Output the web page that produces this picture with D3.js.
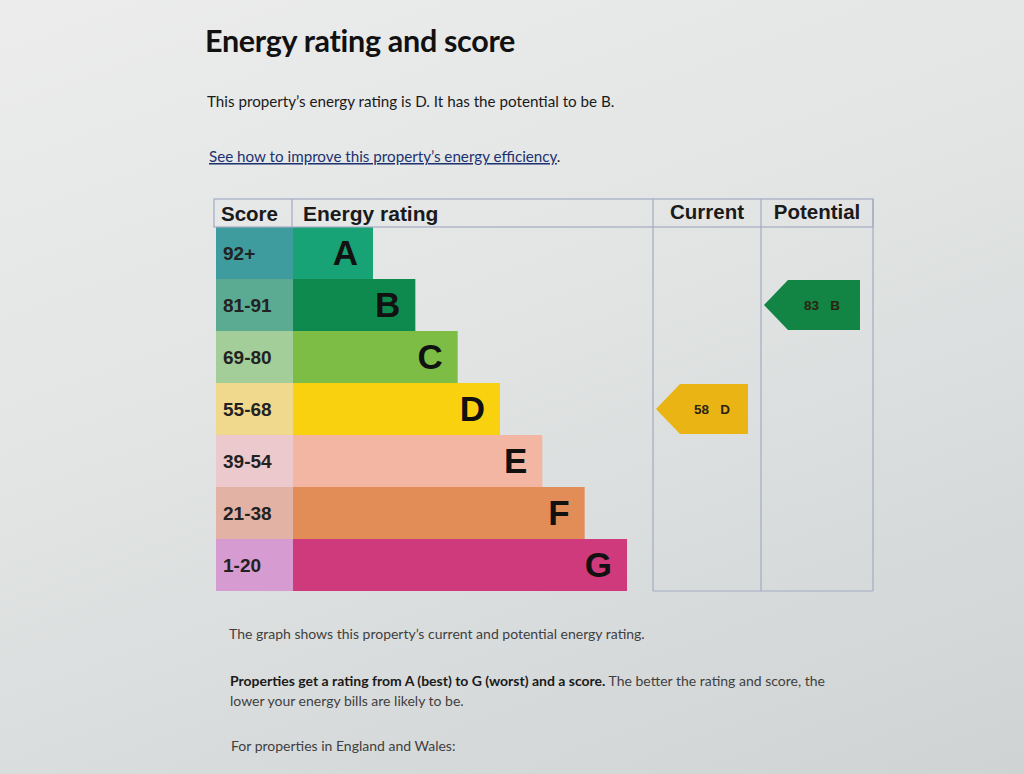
<!DOCTYPE html>
<html><head><meta charset="utf-8">
<script src="https://cdn.jsdelivr.net/npm/d3@7"></script>
<style>
html,body{margin:0;padding:0;}
body{width:1024px;height:774px;overflow:hidden;background:linear-gradient(160deg,#ececec 0%,#e2e4e4 45%,#cfd3d3 100%);}
</style></head>
<body><svg id="c" width="1024" height="774"></svg>
<script>
const ratings = ["A","B","C","D","E","F","G"];
const scoreLabels = ["92+","81-91","69-80","55-68","39-54","21-38","1-20"];
const bandMin = [92,81,69,55,39,21,1];
const currentScore = 58;
const potentialScore = 83;
const headers = ["Score","Energy rating","Current","Potential"];
const barColors = ["#17a376","#0f8a4e","#7dbd45","#f9d10e","#f2b6a3","#e28c58","#cf3a7c"];
const scoreColors = ["#3e9c9f","#5bab93","#a3cd99","#f0d98d","#ebc9cd","#e2b3a5","#d69bd0"];

const svg = d3.select("#c");
const pf = "Lato, 'Noto Sans', sans-serif";

// page text
svg.append("text").attr("x",205).attr("y",52).attr("font-family",pf)
  .attr("font-weight",700).attr("font-size",30.5).attr("fill","#111").attr("letter-spacing","-0.3")
  .text("Energy rating and score");
svg.append("text").attr("x",207).attr("y",107).attr("font-family",pf)
  .attr("font-size",15.2).attr("fill","#1a1a1a")
  .text("This property\u2019s energy rating is D. It has the potential to be B.");
const lt = svg.append("text").attr("x",209).attr("y",162).attr("font-family",pf).attr("font-size",15.2);
lt.append("tspan").attr("fill","#1d3270").attr("text-decoration","underline")
  .text("See how to improve this property\u2019s energy efficiency");
lt.append("tspan").attr("fill","#1a1a1a").text(".");

// table geometry
const tLeft = 214, tRight = 873, tTop = 199, headH = 28;
const colX = d3.scaleOrdinal().domain(headers).range([tLeft, 292, 653, 761]);
const colEnd = {"Score":292,"Energy rating":653,"Current":761,"Potential":tRight};
const y = d3.scaleBand().domain(ratings).range([tTop+headH, 591]).paddingInner(0);
const barEnd = d3.scaleLinear().domain([1,7]).range([373,627]);
const tBottom = y.range()[1];
const hf = "'Liberation Sans', Arial, sans-serif";

const g = svg.append("g");
g.selectAll("rect.score").data(ratings).join("rect")
  .attr("x",tLeft+2).attr("y",d=>y(d)).attr("width",colX("Energy rating")-tLeft-1).attr("height",y.bandwidth())
  .attr("fill",(d,i)=>scoreColors[i]);
g.selectAll("rect.bar").data(ratings).join("rect")
  .attr("x",colX("Energy rating")+1).attr("y",d=>y(d)).attr("width",(d,i)=>barEnd(i+1)-colX("Energy rating")-1)
  .attr("height",y.bandwidth()).attr("fill",(d,i)=>barColors[i]);
g.selectAll("text.sl").data(scoreLabels).join("text")
  .attr("x",tLeft+9).attr("y",(d,i)=>y(ratings[i])+y.bandwidth()/2+7)
  .attr("font-family",hf).attr("font-weight",700).attr("font-size",19)
  .attr("fill","#222").text(d=>d);
g.selectAll("text.rl").data(ratings).join("text")
  .attr("x",(d,i)=>barEnd(i+1)-15).attr("y",d=>y(d)+y.bandwidth()/2+12).attr("text-anchor","end")
  .attr("font-family",hf).attr("font-weight",700).attr("font-size",35)
  .attr("fill","#111").text(d=>d);

// grid lines
const lc = "#a3aac4";
g.append("rect").attr("x",tLeft).attr("y",tTop).attr("width",tRight-tLeft).attr("height",headH)
  .attr("fill","none").attr("stroke",lc).attr("stroke-width",1.2);
g.append("line").attr("x1",colX("Energy rating")).attr("x2",colX("Energy rating")).attr("y1",tTop).attr("y2",tTop+headH).attr("stroke",lc).attr("stroke-width",1.2);
[colX("Current"),colX("Potential"),tRight].forEach(x=>g.append("line").attr("x1",x).attr("x2",x).attr("y1",tTop).attr("y2",tBottom).attr("stroke",lc).attr("stroke-width",1.2));
g.append("line").attr("x1",colX("Current")).attr("x2",tRight).attr("y1",tBottom).attr("y2",tBottom).attr("stroke",lc).attr("stroke-width",1);

// headers
g.append("text").attr("x",tLeft+7).attr("y",tTop+22).attr("font-family",hf).attr("font-weight",700).attr("font-size",20.5).attr("fill","#1a1a1a").text(headers[0]);
g.append("text").attr("x",colX("Energy rating")+11).attr("y",tTop+22).attr("font-family",hf).attr("font-weight",700).attr("font-size",21).attr("fill","#1a1a1a").text(headers[1]);
headers.slice(2).forEach(h=>g.append("text").attr("x",(colX(h)+colEnd[h])/2).attr("y",tTop+20).attr("text-anchor","middle")
  .attr("font-family",hf).attr("font-weight",700).attr("font-size",20.5).attr("fill","#1a1a1a").text(h));

// indicators
function bandOf(s){ return ratings[bandMin.findIndex(m=>s>=m)]; }
const indicators = [{col:"Current",score:currentScore,color:"#eab514"},{col:"Potential",score:potentialScore,color:"#128444"}];
indicators.forEach(ind=>{
  const r = bandOf(ind.score);
  const x0 = colX(ind.col)+3, x1 = colEnd[ind.col]-13, y0 = y(r)+1, y1 = y(r)+y.bandwidth()-1, ym=(y0+y1)/2;
  const pts = [[x0,ym],[x0+24,y0],[x1,y0],[x1,y1],[x0+24,y1]];
  g.append("path").attr("d",d3.line()(pts)+"Z").attr("fill",ind.color);
  g.append("text").attr("x",(x0+x1)/2+10).attr("y",ym+5).attr("text-anchor","middle")
    .attr("font-family",hf).attr("font-weight",700).attr("font-size",13.5).attr("fill","#2a2410")
    .style("white-space","pre").text(ind.score+"   "+r);
});

// footer text
svg.append("text").attr("x",229).attr("y",639).attr("font-family",pf).attr("font-size",14).attr("fill","#3f3f3f")
  .text("The graph shows this property\u2019s current and potential energy rating.");
const t2 = svg.append("text").attr("x",230).attr("y",686).attr("font-family",pf).attr("font-size",14).attr("fill","#3f3f3f");
t2.append("tspan").attr("font-weight",700).attr("fill","#1a1a1a").text("Properties get a rating from A (best) to G (worst) and a score.");
t2.append("tspan").text(" The better the rating and score, the");
svg.append("text").attr("x",230).attr("y",706).attr("font-family",pf).attr("font-size",14).attr("fill","#3f3f3f")
  .text("lower your energy bills are likely to be.");
svg.append("text").attr("x",231).attr("y",751).attr("font-family",pf).attr("font-size",14).attr("fill","#3f3f3f")
  .text("For properties in England and Wales:");
</script></body></html>
